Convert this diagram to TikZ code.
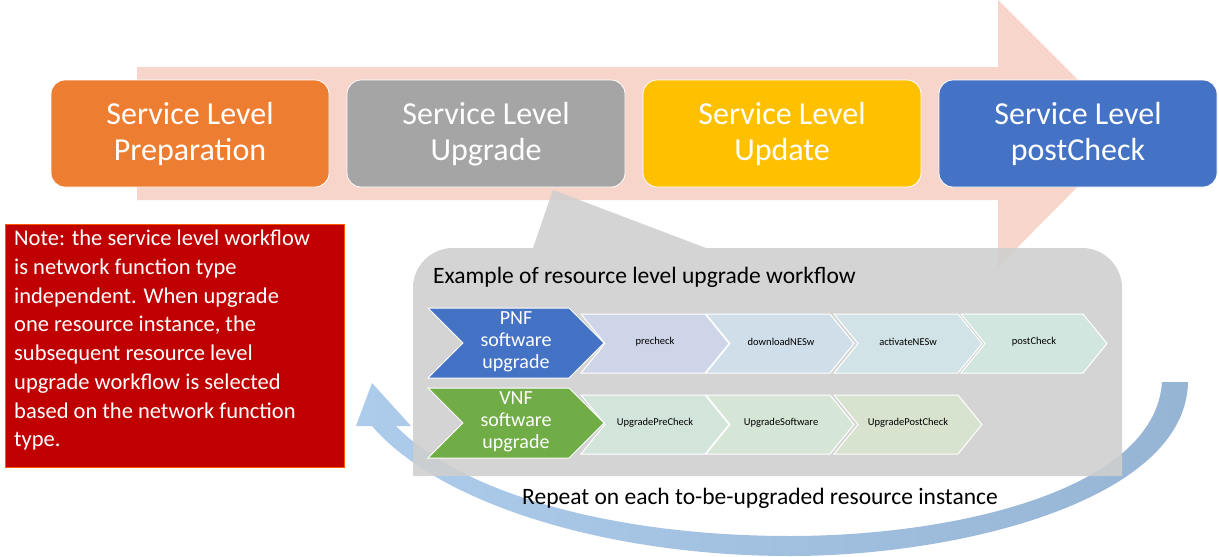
\documentclass[tikz,border=0pt]{standalone}
\usepackage{fontspec}
\setmainfont{Carlito}
\begin{document}
\begin{tikzpicture}[x=1pt,y=-1pt,
  sbox/.style={text=white,align=center,font=\fontsize{32}{36}\selectfont,inner sep=0pt},
  lbl/.style={text=white,align=center,font=\fontsize{20}{22}\selectfont},
  sm/.style={font=\fontsize{10.5}{12}\selectfont}]
\useasboundingbox (0,0) rectangle (1219,557);
\definecolor{pinkA}{HTML}{F8D5CA}
\definecolor{cOr}{HTML}{ED7D31}
\definecolor{cGr}{HTML}{A5A5A5}
\definecolor{cGo}{HTML}{FFC000}
\definecolor{cBl}{HTML}{4472C4}
\definecolor{cGn}{HTML}{70AD47}
\definecolor{cRd}{HTML}{C00000}
\definecolor{k1}{HTML}{CFD5E8}
\definecolor{k2}{HTML}{D0DEEA}
\definecolor{k3}{HTML}{D1E3E6}
\definecolor{k4}{HTML}{D2E6E0}
\definecolor{k5}{HTML}{D3E5DB}
\definecolor{k6}{HTML}{D6E6D6}
\definecolor{k7}{HTML}{D8E3CF}
\definecolor{bl1}{HTML}{ADCCEB}
\definecolor{bl2}{HTML}{96B4D4}
% big arrow
\fill[pinkA] (137,67) -- (998,67) -- (998,0) -- (1131,133) -- (998,267) -- (998,200) -- (137,200) -- cycle;
% boxes
\foreach \x/\c/\t/\n in {51/cOr/Preparation/b1,347/cGr/Upgrade/b2,643/cGo/Update/b3,939/cBl/postCheck/b4}{
  \filldraw[fill=\c,draw=white,line width=0.8pt,rounded corners=14pt] (\x,80) rectangle ++(278,107);
  \node[sbox] (\n) at (\x+139,134) {Service Level\\\t};
}
% blue return arrow
\shade[left color=bl1,right color=bl2]
 (1188,382) .. controls (1186,500) and (960,556) .. (790,556) .. controls (610,556) and (440,505) .. (372,426)
 -- (356,426) -- (372,383) -- (411,426) -- (396,426)
 .. controls (460,492) and (610,536) .. (790,536) .. controls (955,536) and (1155,490) .. (1162,382) -- cycle;
% callout
\fill[black!19,opacity=0.9] (533,248) -- (553,190) -- (706,248)
  [rounded corners=40pt] -- (1122,248) -- (1122,476) [sharp corners] -- (1122,476) -- (413,476) [rounded corners=40pt] -- (413,248) [sharp corners] -- (533,248) -- cycle;
\node[anchor=west,font=\fontsize{23.5}{26}\selectfont,inner sep=0pt] (ttl) at (433,277) {Example of resource level upgrade workflow};
% chevrons
\newcommand\chev[6]{% x1 y1 x2 y2 notch color
  \fill[fill=#6,draw=white,line width=1pt] (#1,#2) -- (#3-#5,#2) -- (#3,#2/2+#4/2) -- (#3-#5,#4) -- (#1,#4) -- (#1+#5,#2/2+#4/2) -- cycle;
}
\chev{581}{314}{729}{373}{24}{k1}
\chev{706}{314}{854}{373}{24}{k2}
\chev{834}{314}{982}{373}{24}{k3}
\chev{961}{314}{1107}{373}{24}{k4}
\chev{581}{395}{729}{454}{24}{k5}
\chev{706}{395}{854}{454}{24}{k6}
\chev{834}{395}{982}{454}{24}{k7}
\chev{428}{308}{604}{378}{35}{cBl}
\chev{428}{388}{604}{458}{35}{cGn}
\node[lbl] (pnf) at (516,342) {PNF\\software\\upgrade};
\node[lbl] (vnf) at (516,422) {VNF\\software\\upgrade};
\node[sm] (c1) at (655,342) {precheck};
\node[sm] (c2) at (781,342) {downloadNESw};
\node[sm] (c3) at (908,342) {activateNESw};
\node[sm] (c4) at (1034,342) {postCheck};
\node[sm] (d1) at (655,423) {UpgradePreCheck};
\node[sm] (d2) at (781,423) {UpgradeSoftware};
\node[sm] (d3) at (908,423) {UpgradePostCheck};
% note
\fill[cRd,draw=orange!70!red,line width=0.6pt] (5,224) rectangle (344,467);
\node[anchor=north west,text=white,align=left,font=\fontsize{22.5}{28.7}\selectfont,inner sep=0pt] (note) at (14,230)
{Note: the service level workflow\\is network function type\\independent. When upgrade\\one resource instance, the\\subsequent resource level\\upgrade workflow is selected\\based on the network function\\type.};
\node[font=\fontsize{23.5}{26}\selectfont] (rep) at (760,498) {Repeat on each to-be-upgraded resource instance};
\end{tikzpicture}
\end{document}
